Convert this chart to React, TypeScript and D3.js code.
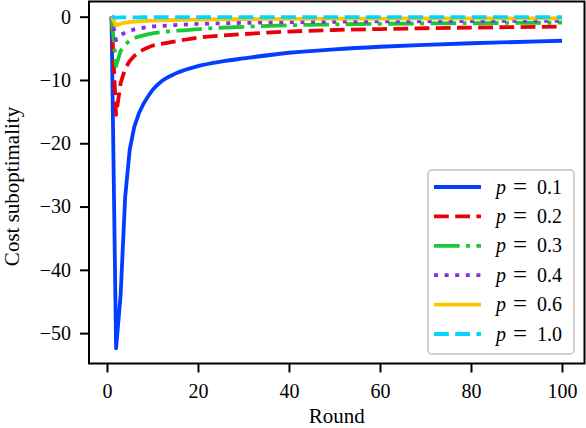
import { useEffect, useRef } from 'react';
import * as d3 from 'd3';

const rounds = [1, 2, 3, 4, 5, 6, 7, 8, 10, 12, 15, 20, 25, 30, 40, 50, 60, 70, 80, 90, 100];

const p01 = [0, -52.4, -44, -28.5, -21, -17.4, -15.3, -13.8, -11.6, -10.2, -9.0, -7.8, -7.1, -6.6, -5.7, -5.15, -4.75, -4.45, -4.2, -4.0, -3.8];
const p02 = [0, -15.5, -10.5, -8.2, -7.0, -6.2, -5.6, -5.2, -4.6, -4.3, -3.9, -3.3, -3.0, -2.75, -2.35, -2.1, -1.95, -1.83, -1.72, -1.64, -1.57];
const p03 = [0, -7.8, -5.4, -4.4, -3.8, -3.4, -3.15, -2.95, -2.65, -2.45, -2.25, -1.95, -1.75, -1.6, -1.35, -1.22, -1.13, -1.07, -1.02, -0.98, -0.95];
const p04 = [0, -3.7, -2.9, -2.5, -2.25, -2.0, -1.85, -1.75, -1.55, -1.45, -1.32, -1.15, -1.05, -0.98, -0.87, -0.8, -0.75, -0.72, -0.69, -0.66, -0.64];
const p06 = [0, -1.4, -1.1, -0.95, -0.85, -0.78, -0.73, -0.68, -0.62, -0.57, -0.52, -0.46, -0.42, -0.39, -0.35, -0.32, -0.3, -0.28, -0.27, -0.26, -0.25];
const p10 = [0, -0.15, -0.12, -0.11, -0.1, -0.1, -0.1, -0.09, -0.09, -0.09, -0.08, -0.08, -0.08, -0.08, -0.08, -0.08, -0.08, -0.08, -0.08, -0.08, -0.08];

const seriesLabels = ['0.1', '0.2', '0.3', '0.4', '0.6', '1.0'];
const seriesValues = [p01, p02, p03, p04, p06, p10];
const colors = ['#023eff', '#e8000b', '#1ac938', '#8b2be2', '#ffc400', '#00d7ff'];
const dashes = ['none', '14.8,6.4', '25.6,6.4,4,6.4', '4,6.6', 'none', '14.8,6.4'];

const xTicks = [0, 20, 40, 60, 80, 100];
const yTicks = [0, -10, -20, -30, -40, -50];

// early rounds are joined straight, later ones smoothed
const splitAt = 7;

export default function App() {
  const svgRef = useRef<SVGSVGElement>(null);

  useEffect(() => {
    if (!svgRef.current) return;
    const svg = d3.select(svgRef.current);
    svg.selectAll('*').remove();

    const width = 586;
    const height = 428;
    const box = { left: 89, right: 584.5, top: 1.5, bottom: 363.5 };
    const font = '"Liberation Serif", serif';
    const fs = 20;

    svg.attr('width', width).attr('height', height);

    const x = d3.scaleLinear().domain([-3.95, 104.95]).range([box.left, box.right]);
    const y = d3.scaleLinear().domain([-54.8, 2.4]).range([box.bottom, box.top]);

    const straight = d3
      .line<[number, number]>()
      .x((d) => x(d[0]))
      .y((d) => y(d[1]));
    const smooth = d3
      .line<[number, number]>()
      .x((d) => x(d[0]))
      .y((d) => y(d[1]))
      .curve(d3.curveMonotoneX);

    const pathFor = (vals: number[]) => {
      const pts = vals.map((v, i) => [rounds[i], v] as [number, number]);
      const a = straight(pts.slice(0, splitAt + 1)) || '';
      const b = (smooth(pts.slice(splitAt)) || '').replace(/^M[^LC]*/, '');
      return a + b;
    };

    svg
      .append('defs')
      .append('clipPath')
      .attr('id', 'plot')
      .append('rect')
      .attr('x', box.left)
      .attr('y', box.top)
      .attr('width', box.right - box.left)
      .attr('height', box.bottom - box.top);

    const g = svg.append('g').attr('clip-path', 'url(#plot)');
    seriesValues.forEach((vals, k) => {
      g.append('path')
        .attr('d', pathFor(vals))
        .attr('fill', 'none')
        .attr('stroke', colors[k])
        .attr('stroke-width', 3.8)
        .attr('stroke-dasharray', dashes[k])
        .attr('stroke-linejoin', 'round');
    });

    // axes
    const xAxis = svg
      .append('g')
      .attr('transform', `translate(0,${box.bottom})`)
      .call(d3.axisBottom(x).tickValues(xTicks).tickSize(9).tickPadding(6).tickSizeOuter(0));
    const yAxis = svg
      .append('g')
      .attr('transform', `translate(${box.left},0)`)
      .call(
        d3
          .axisLeft(y)
          .tickValues(yTicks)
          .tickSize(9)
          .tickPadding(9)
          .tickSizeOuter(0)
          .tickFormat((d) => (Number(d) < 0 ? '\u2212' + Math.abs(Number(d)) : String(d)))
      );
    [xAxis, yAxis].forEach((a) => {
      a.select('.domain').remove();
      a.selectAll('line').attr('stroke', '#000').attr('stroke-width', 2);
      a.selectAll('text').attr('fill', '#000').style('font-family', font).style('font-size', `${fs}px`);
    });
    xAxis.selectAll('text').attr('dy', '0.95em');

    // frame
    svg
      .append('rect')
      .attr('x', box.left)
      .attr('y', box.top)
      .attr('width', box.right - box.left)
      .attr('height', box.bottom - box.top)
      .attr('fill', 'none')
      .attr('stroke', '#000')
      .attr('stroke-width', 2);

    // axis labels
    svg
      .append('text')
      .attr('x', (box.left + box.right) / 2)
      .attr('y', 423)
      .attr('text-anchor', 'middle')
      .style('font-family', font)
      .style('font-size', '21px')
      .text('Round');
    svg
      .append('text')
      .attr('transform', `translate(19,${(box.top + box.bottom) / 2 + 4}) rotate(-90)`)
      .attr('text-anchor', 'middle')
      .style('font-family', font)
      .style('font-size', '21px')
      .text('Cost suboptimality');

    // legend
    const leg = svg.append('g');
    leg
      .append('rect')
      .attr('x', 428)
      .attr('y', 170)
      .attr('width', 146)
      .attr('height', 184)
      .attr('rx', 4)
      .attr('fill', '#fff')
      .attr('fill-opacity', 0.8)
      .attr('stroke', '#d2d2d2')
      .attr('stroke-width', 2);
    seriesLabels.forEach((lab, k) => {
      const cy = 187 + k * 29.4;
      leg
        .append('line')
        .attr('x1', 434)
        .attr('x2', 481)
        .attr('y1', cy)
        .attr('y2', cy)
        .attr('stroke', colors[k])
        .attr('stroke-width', 3.8)
        .attr('stroke-dasharray', dashes[k]);
      const t = leg
        .append('text')
        .attr('y', cy + 6.5)
        .style('font-family', font)
        .style('font-size', `${fs}px`);
      t.append('tspan').attr('x', 496).attr('font-style', 'italic').text('p');
      t.append('tspan').attr('x', 513).style('font-size', '25px').attr('dy', 1).text('=');
      t.append('tspan').attr('x', 537).attr('dy', -1).text(lab);
    });
  }, []);

  return (
    <div style={{ position: 'absolute', left: 0, top: 0 }}>
      <svg ref={svgRef} style={{ display: 'block' }} />
    </div>
  );
}
